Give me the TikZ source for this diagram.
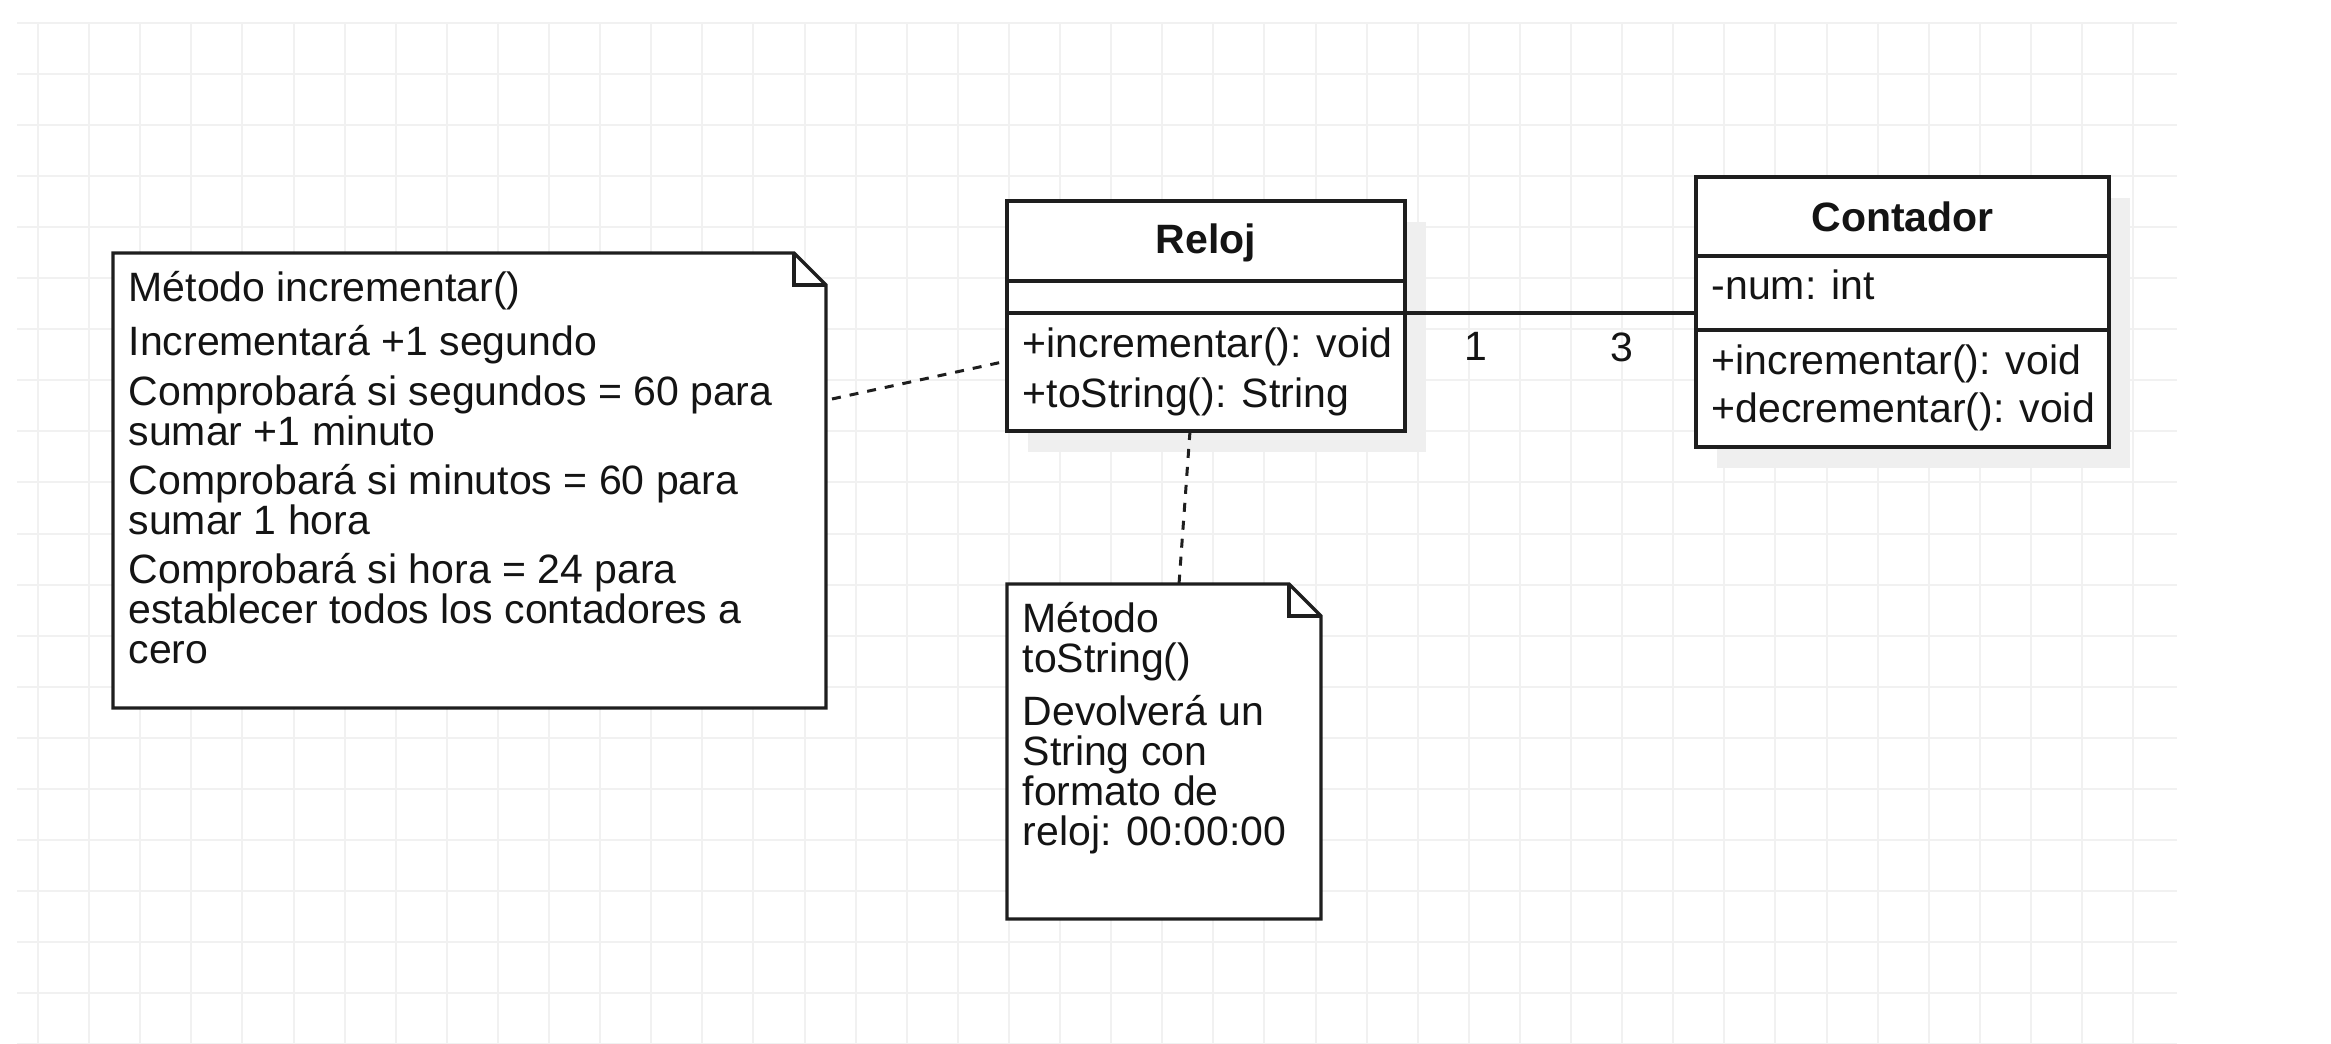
\documentclass[tikz,border=0pt]{standalone}
\usepackage{fontspec}
\setmainfont{Liberation Sans}
\usepackage{xcolor}
\usepackage{tikz}
\usetikzlibrary{positioning, shadows}
\definecolor{gridcolor}{RGB}{241, 241, 241}
\definecolor{shadowcolor}{RGB}{239, 239, 239}
\definecolor{umlline}{RGB}{30, 30, 30}
\definecolor{umltext}{RGB}{20, 20, 20}

\begin{document}
\begin{tikzpicture}[x=0.3pt, y=-0.3pt,
    gridline/.style={gridcolor, line width=0.6pt},
    umlpart/.style={draw=umlline, line width=1pt, fill=white, outer sep=0pt, inner sep=0pt,
        drop shadow={shadow xshift=6.3pt, shadow yshift=-6.3pt, fill=shadowcolor, opacity=1}},
    relojpart/.style={umlpart, minimum width=119.4pt},
    contpart/.style={umlpart, minimum width=123.9pt},
    txt/.style={font=\fontsize{12.3}{12}\selectfont, text=umltext},
    member/.style={txt, inner sep=0pt, anchor=base west},
    notabox/.style={inner sep=0pt, outer sep=0pt, anchor=north west},
    notaline/.style={draw=umlline, line width=1pt},
    notatext/.style={txt, align=left, inner xsep=4.5pt, inner ysep=5.4pt, anchor=north west},
    notelink/.style={umlline, line width=0.9pt, dash pattern=on 2.7pt off 2.7pt}
]
    \useasboundingbox (0,0) rectangle (2331,1044);

    % Grid
    \foreach \x in {0,...,41} {
        \draw[gridline] ({38+51.1*\x},23) -- ({38+51.1*\x},1044);
    }
    \foreach \y in {0,...,20} {
        \draw[gridline] (17,{23+51.05*\y}) -- (2177,{23+51.05*\y});
    }

    % Notes
    \node[notabox, minimum width=213.9pt, minimum height=136.5pt] (notaincr) at (113,253) {};
    \node[notabox, minimum width=94.2pt, minimum height=100.5pt] (notastr) at (1007,584) {};
    \foreach \n in {notaincr, notastr} {
        \draw[notaline, fill=white] (\n.north west) -- ([xshift=-9.6pt]\n.north east)
            -- ([yshift=-9.6pt]\n.north east) -- (\n.south east) -- (\n.south west) -- cycle;
        \draw[notaline] ([xshift=-9.6pt]\n.north east) |- ([yshift=-9.6pt]\n.north east);
    }
    \node[notatext] (notaincrtxt) at (notaincr.north west) {Método incrementar()\\[4.2pt]
        Incrementará +1 segundo\\[2.8pt]
        Comprobará si segundos = 60 para\\
        sumar +1 minuto\\[2.8pt]
        Comprobará si minutos = 60 para\\
        sumar 1 hora\\[2.8pt]
        Comprobará si hora = 24 para\\
        establecer todos los contadores a\\
        cero};
    \node[notatext] (notastrtxt) at (notastr.north west) {Método\\
        toString()\\[3.9pt]
        Devolverá un\\
        String con\\
        formato de\\
        reloj: 00:00:00};

    % Class Reloj
    \node[relojpart, minimum height=24pt, anchor=north west, txt, font=\fontsize{12.3}{12}\selectfont\bfseries, text depth=1.5pt] (reloj) at (1007,201) {Reloj};
    \node[relojpart, minimum height=9.6pt, below=0pt of reloj] (relojattr) {};
    \node[relojpart, minimum height=35.4pt, below=0pt of relojattr] (relojops) {};
    \node[member] (relojop1) at ([xshift=4.5pt, yshift=-13.5pt]relojops.north west) {+incrementar(): void};
    \node[member] (relojop2) at ([xshift=4.5pt, yshift=-28.3pt]relojops.north west) {+toString(): String};

    % Class Contador
    \node[contpart, minimum height=23.7pt, anchor=north west, txt, font=\fontsize{12.3}{12}\selectfont\bfseries] (contador) at (1696,177) {Contador};
    \node[contpart, minimum height=22.2pt, below=0pt of contador] (contadorattr) {};
    \node[contpart, minimum height=35.1pt, below=0pt of contadorattr] (contadorops) {};
    \node[member] (contadorat1) at ([xshift=4.5pt, yshift=-13.2pt]contadorattr.north west) {-num: int};
    \node[member] (contadorop1) at ([xshift=4.5pt, yshift=-13.5pt]contadorops.north west) {+incrementar(): void};
    \node[member] (contadorop2) at ([xshift=4.5pt, yshift=-27.8pt]contadorops.north west) {+decrementar(): void};

    % Association 1 -- 3
    \draw[umlline, line width=1pt] (relojops.north east) -- (relojops.north east -| contadorattr.west)
        node[txt, pos=0.244, below=2pt] (mult1) {1}
        node[txt, pos=0.746, below=2pt] (mult3) {3};

    % Note links
    \draw[notelink] ([xshift=1.8pt, yshift=-43.8pt]notaincr.north east) -- ([yshift=-14.4pt]relojops.north west);
    \draw[notelink] ([xshift=-4.8pt]relojops.south) -- ([xshift=4.5pt]notastr.north);

\end{tikzpicture}
\end{document}
